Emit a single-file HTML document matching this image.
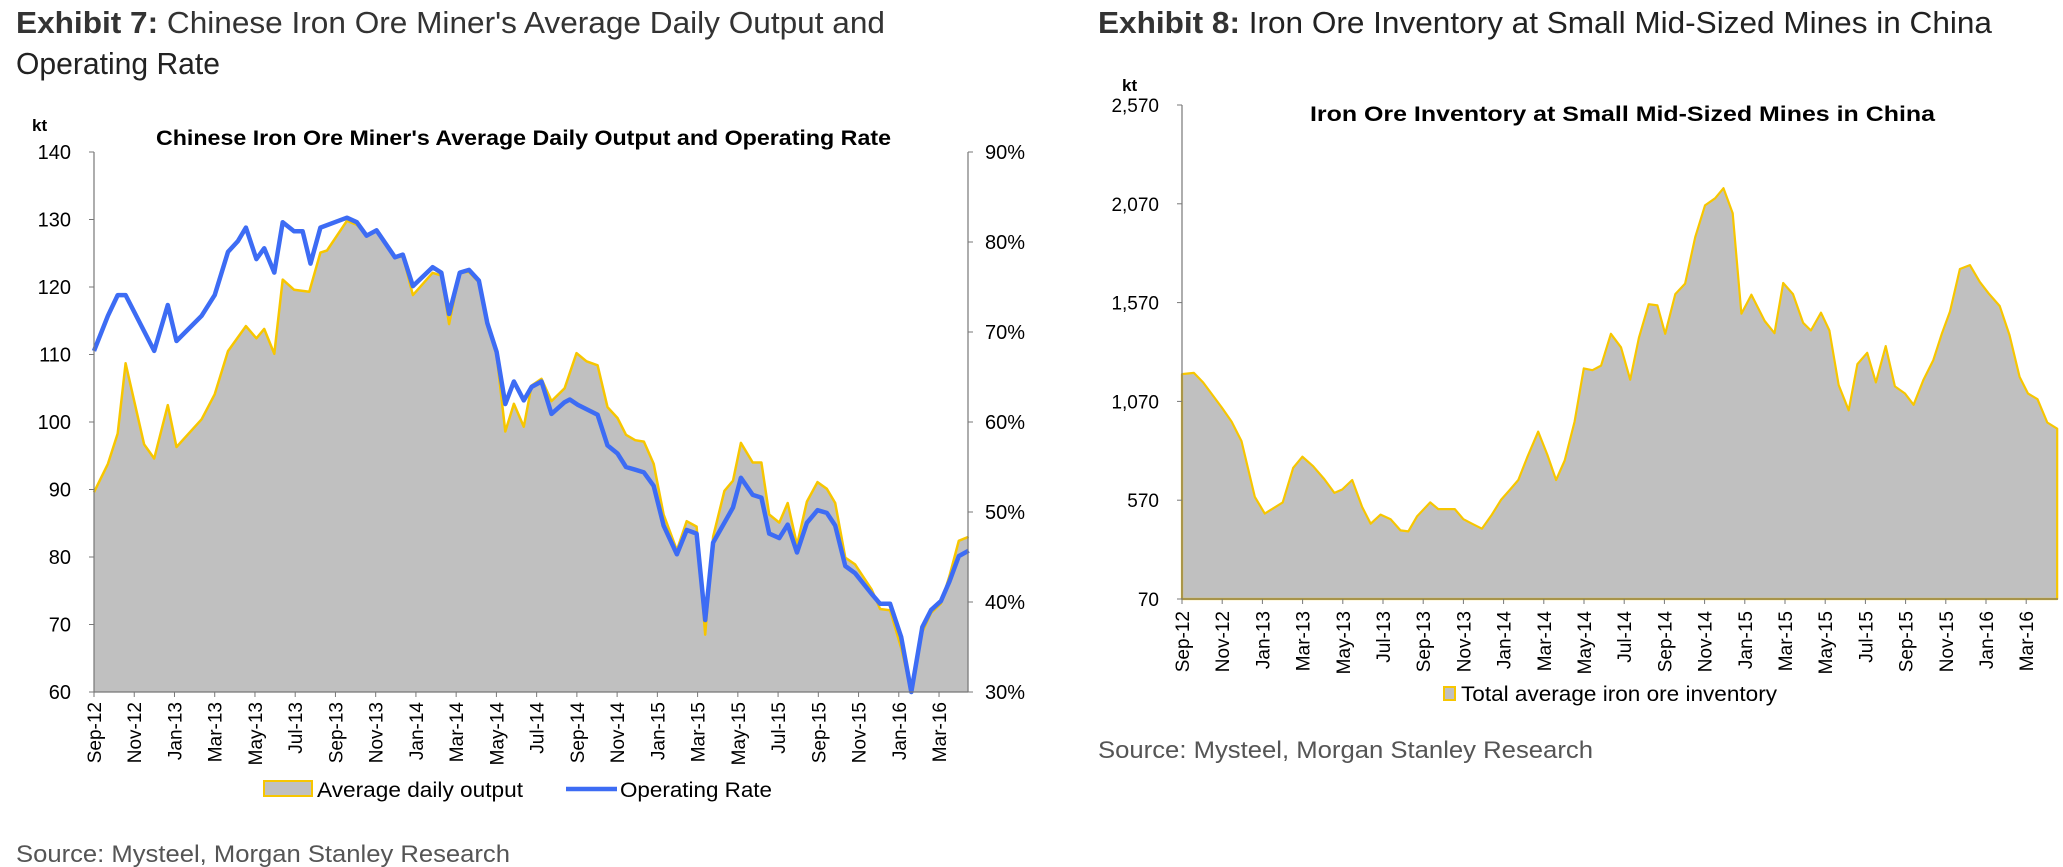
<!DOCTYPE html>
<html><head><meta charset="utf-8"><style>
html,body{margin:0;padding:0;background:#fff;}
svg{display:block;font-family:"Liberation Sans",Arial,sans-serif;}
</style></head><body>
<svg id="s" width="2063" height="867" viewBox="0 0 2063 867">
<g>
<text x="16" y="33" font-size="31" fill="#333" textLength="869" lengthAdjust="spacingAndGlyphs"><tspan font-weight="bold">Exhibit 7:</tspan>  Chinese Iron Ore Miner's Average Daily Output and</text>
<text x="16" y="74" font-size="31" fill="#222" textLength="204" lengthAdjust="spacingAndGlyphs">Operating Rate</text>
</g>
<g>
<text x="1098" y="33" font-size="31" fill="#222" textLength="894" lengthAdjust="spacingAndGlyphs"><tspan font-weight="bold" fill="#333">Exhibit 8:</tspan>  Iron Ore Inventory at Small Mid-Sized Mines in China</text>
</g>
<text x="16" y="862" font-size="24" fill="#555" textLength="494" lengthAdjust="spacingAndGlyphs">Source: Mysteel, Morgan Stanley Research</text>
<text x="1098" y="758" font-size="24" fill="#555" textLength="495" lengthAdjust="spacingAndGlyphs">Source: Mysteel, Morgan Stanley Research</text>
<g id="c1"></g><g id="c2"></g>
</svg>
<script>
// Chart 1 data (t = months since Sep-12)
const outT=[0,.69,1.18,1.57,2.49,2.99,3.67,4.10,5.35,6.0,6.66,7.55,8.07,8.46,8.96,9.38,9.94,10.70,11.25,11.58,12.57,13.06,13.55,14.04,14.96,15.35,15.85,16.83,17.26,17.65,18.18,18.64,19.13,19.55,20.01,20.44,20.87,21.36,21.75,22.24,22.74,23.39,23.98,24.48,25.03,25.52,26.02,26.44,26.90,27.33,27.82,28.31,28.97,29.46,29.95,30.38,30.77,31.33,31.76,32.15,32.74,33.17,33.56,34.06,34.48,34.94,35.43,35.96,36.42,36.84,37.34,37.83,38.65,39.07,39.57,40.12,40.62,41.11,41.60,42.09,42.52,42.98,43.47];
const outputKt=[89.6,93.8,98.3,108.7,96.7,94.6,102.5,96.3,100.4,104.1,110.5,114.2,112.4,113.8,110.1,121.1,119.6,119.3,125.1,125.4,129.8,129.2,127.7,128.3,124.3,124.6,118.8,122.1,121.7,114.5,122.2,122.2,120.7,114.5,109.9,98.6,102.7,99.3,105.4,106.4,103.1,105.0,110.2,109.0,108.4,102.2,100.6,98.1,97.3,97.1,93.8,86.3,81.0,85.3,84.5,68.5,83.0,89.8,91.3,96.9,94.0,94.0,86.3,85.1,88.0,81.8,88.2,91.1,90.1,88.0,79.9,78.9,75.2,72.3,72.1,66.5,60,68.5,71.7,73.1,77.2,82.4,83.0];
const rateT=[0,.69,1.18,1.57,2.99,3.67,4.10,5.35,6.0,6.66,7.15,7.55,8.07,8.46,8.96,9.38,9.94,10.37,10.76,11.25,12.57,13.06,13.55,14.04,14.96,15.35,15.85,16.83,17.26,17.65,18.18,18.64,19.13,19.55,20.01,20.44,20.87,21.36,21.75,22.24,22.74,23.39,23.65,24.05,25.03,25.52,26.02,26.44,26.90,27.33,27.82,28.31,28.97,29.46,29.95,30.38,30.77,31.33,31.76,32.15,32.74,33.17,33.56,34.06,34.48,34.94,35.43,35.96,36.42,36.84,37.34,37.83,38.65,39.07,39.57,40.12,40.62,41.17,41.60,42.09,42.52,42.98,43.47];
const operatingRate=[67.9,71.8,74.1,74.1,67.9,73.0,69.0,71.8,74.1,78.9,80.1,81.6,78.1,79.3,76.6,82.2,81.2,81.2,77.6,81.6,82.7,82.2,80.7,81.3,78.3,78.6,75.1,77.2,76.6,72.0,76.6,76.9,75.7,71.0,67.8,62.0,64.5,62.4,63.9,64.5,60.9,62.2,62.5,61.9,60.8,57.4,56.5,55.0,54.7,54.4,52.9,48.5,45.3,48.0,47.6,38.0,46.6,48.8,50.5,53.8,51.9,51.6,47.6,47.1,48.6,45.5,48.8,50.2,49.9,48.5,44.0,43.2,40.9,39.8,39.8,36.1,30.0,37.2,39.1,40.1,42.3,45.1,45.7];
const leftTicks=[60,70,80,90,100,110,120,130,140];
const rightTicks=[30,40,50,60,70,80,90];
const monthLabels=["Sep-12","Nov-12","Jan-13","Mar-13","May-13","Jul-13","Sep-13","Nov-13","Jan-14","Mar-14","May-14","Jul-14","Sep-14","Nov-14","Jan-15","Mar-15","May-15","Jul-15","Sep-15","Nov-15","Jan-16","Mar-16"];
// Chart 2 data
const invT=[0,.59,1.05,1.98,2.47,2.96,3.62,4.12,5.01,5.53,5.99,6.52,7.08,7.58,7.97,8.47,8.96,9.39,9.88,10.38,10.87,11.26,11.69,12.35,12.75,13.57,14.0,14.43,14.92,15.42,15.88,16.30,16.73,17.19,17.72,18.18,18.61,19.04,19.53,19.99,20.42,20.85,21.34,21.84,22.30,22.73,23.22,23.65,24.04,24.54,25.03,25.53,26.02,26.52,26.94,27.40,27.83,28.33,28.99,29.48,29.91,30.40,30.90,31.29,31.79,32.21,32.67,33.17,33.60,34.09,34.52,35.01,35.47,35.97,36.40,36.89,37.38,37.81,38.21,38.70,39.20,39.69,40.12,40.68,41.17,41.67,42.09,42.56,43.05,43.54];
const inventoryKt=[1208,1214,1166,1039,968,869,587,502,559,734,790,742,677,607,624,672,536,451,497,474,417,412,488,559,525,525,474,451,426,497,573,621,672,790,917,799,672,771,968,1237,1228,1251,1412,1344,1180,1392,1562,1556,1412,1613,1666,1901,2062,2098,2149,2022,1514,1610,1477,1415,1669,1613,1468,1429,1519,1429,1152,1025,1259,1316,1166,1350,1146,1110,1053,1180,1279,1415,1525,1740,1760,1675,1618,1553,1406,1194,1110,1081,963,932];
const invTicks=[70,570,1070,1570,2070,2570];
const invTickLabels=["70","570","1,070","1,570","2,070","2,570"];

const NS="http://www.w3.org/2000/svg";
function mk(p,tag,a,txt){const e=document.createElementNS(NS,tag);for(const k in a)e.setAttribute(k,a[k]);if(txt!=null)e.textContent=txt;p.appendChild(e);return e;}

// ---------- Chart 1 ----------
const c1=document.getElementById('c1');
const L1=94,R1=968,T1=152,B1=692,MW1=20.12;
const x1=t=>L1+t*MW1, yL=v=>B1-(v-60)/80*(B1-T1), yR=v=>B1-(v-30)/60*(B1-T1);
let t=mk(c1,'text',{x:156,y:145,'font-size':21,'font-weight':'bold',fill:'#000',textLength:735,lengthAdjust:'spacingAndGlyphs'},"Chinese Iron Ore Miner's Average Daily Output and Operating Rate");

t=mk(c1,'text',{x:32,y:131,'font-size':17,'font-weight':'bold'},'kt');

let d='M'+x1(outT[0])+','+B1;
outT.forEach((tt,i)=>{d+=' L'+x1(tt).toFixed(1)+','+yL(outputKt[i]).toFixed(1);});
d+=' L'+x1(outT[outT.length-1])+','+B1+' Z';
let e=mk(c1,'path',{d:d,fill:'#c0c0c0',stroke:'none'});

d='';outT.forEach((tt,i)=>{d+=(i?' L':'M')+x1(tt).toFixed(1)+','+yL(outputKt[i]).toFixed(1);});
e=mk(c1,'path',{d:d,fill:'none',stroke:'#f7c600','stroke-width':2.5,'stroke-linejoin':'round'});

d='';rateT.forEach((tt,i)=>{d+=(i?' L':'M')+x1(tt).toFixed(1)+','+yR(operatingRate[i]).toFixed(1);});
e=mk(c1,'path',{d:d,fill:'none',stroke:'#3d6cf4','stroke-width':4.5,'stroke-linejoin':'round'});

e=mk(c1,'line',{x1:L1,y1:T1,x2:L1,y2:B1,stroke:'#777','stroke-width':1.2});

e=mk(c1,'line',{x1:R1,y1:T1,x2:R1,y2:B1,stroke:'#777','stroke-width':1.2});

e=mk(c1,'line',{x1:L1,y1:B1,x2:R1,y2:B1,stroke:'#777','stroke-width':1.2});

leftTicks.forEach(v=>{mk(c1,'line',{x1:L1-5,x2:L1,y1:yL(v),y2:yL(v),stroke:'#777'});
 const l=mk(c1,'text',{x:71,y:yL(v)+7,'font-size':20,'text-anchor':'end'},String(v));
 
 });
rightTicks.forEach(v=>{mk(c1,'line',{x1:R1,x2:R1+5,y1:yR(v),y2:yR(v),stroke:'#777'});
 const l=mk(c1,'text',{x:985,y:yR(v)+7,'font-size':20},v+'%');
 
 });
monthLabels.forEach((s,i)=>{const xx=x1(i*2);mk(c1,'line',{x1:xx,x2:xx,y1:B1,y2:B1+5,stroke:'#777'});
 const l=mk(c1,'text',{x:0,y:0,'font-size':19,'text-anchor':'end',transform:`translate(${xx+7},${B1+10}) rotate(-90)`},s);
 
 });
let g=mk(c1,'g',{});
mk(g,'rect',{x:264,y:781,width:48,height:15,fill:'#c0c0c0',stroke:'#f7c600','stroke-width':2});
mk(g,'text',{x:317,y:797,'font-size':21,textLength:206,lengthAdjust:'spacingAndGlyphs'},'Average daily output');
g=mk(c1,'g',{});
mk(g,'line',{x1:566,x2:617,y1:789,y2:789,stroke:'#3d6cf4','stroke-width':4.5});
mk(g,'text',{x:620,y:797,'font-size':21,textLength:152,lengthAdjust:'spacingAndGlyphs'},'Operating Rate');

// ---------- Chart 2 ----------
const c2=document.getElementById('c2');
const L2=1182,R2=2058,T2=105,B2=599,MW2=20.1;
const x2=t=>L2+t*MW2, y2=v=>B2-(v-70)/2500*(B2-T2);
t=mk(c2,'text',{x:1310,y:121,'font-size':21,'font-weight':'bold',textLength:625,lengthAdjust:'spacingAndGlyphs'},'Iron Ore Inventory at Small Mid-Sized Mines in China');

t=mk(c2,'text',{x:1122,y:91,'font-size':17,'font-weight':'bold'},'kt');

d='M'+x2(invT[0])+','+B2;
invT.forEach((tt,i)=>{d+=' L'+x2(tt).toFixed(1)+','+y2(inventoryKt[i]).toFixed(1);});
d+=' L'+x2(invT[invT.length-1])+','+B2+' Z';
e=mk(c2,'path',{d:d,fill:'#c0c0c0',stroke:'#f7c600','stroke-width':2.2,'stroke-linejoin':'round'});

e=mk(c2,'line',{x1:L2,y1:T2,x2:L2,y2:B2,stroke:'#777','stroke-width':1.2});

e=mk(c2,'line',{x1:L2,y1:B2,x2:R2,y2:B2,stroke:'#777','stroke-width':1.2});

invTicks.forEach((v,i)=>{mk(c2,'line',{x1:L2-5,x2:L2,y1:y2(v),y2:y2(v),stroke:'#777'});
 const l=mk(c2,'text',{x:1159,y:y2(v)+7,'font-size':19,'text-anchor':'end'},invTickLabels[i]);
 
 });
monthLabels.forEach((s,i)=>{const xx=x2(i*2);mk(c2,'line',{x1:xx,x2:xx,y1:B2,y2:B2+5,stroke:'#777'});
 const l=mk(c2,'text',{x:0,y:0,'font-size':19,'text-anchor':'end',transform:`translate(${xx+7},${B2+12}) rotate(-90)`},s);
 
 });
g=mk(c2,'g',{});
mk(g,'rect',{x:1444,y:687,width:11,height:13,fill:'#c0c0c0',stroke:'#f7c600','stroke-width':2});
mk(g,'text',{x:1461,y:701,'font-size':21,textLength:316,lengthAdjust:'spacingAndGlyphs'},'Total average iron ore inventory');
</script>
</body></html>
